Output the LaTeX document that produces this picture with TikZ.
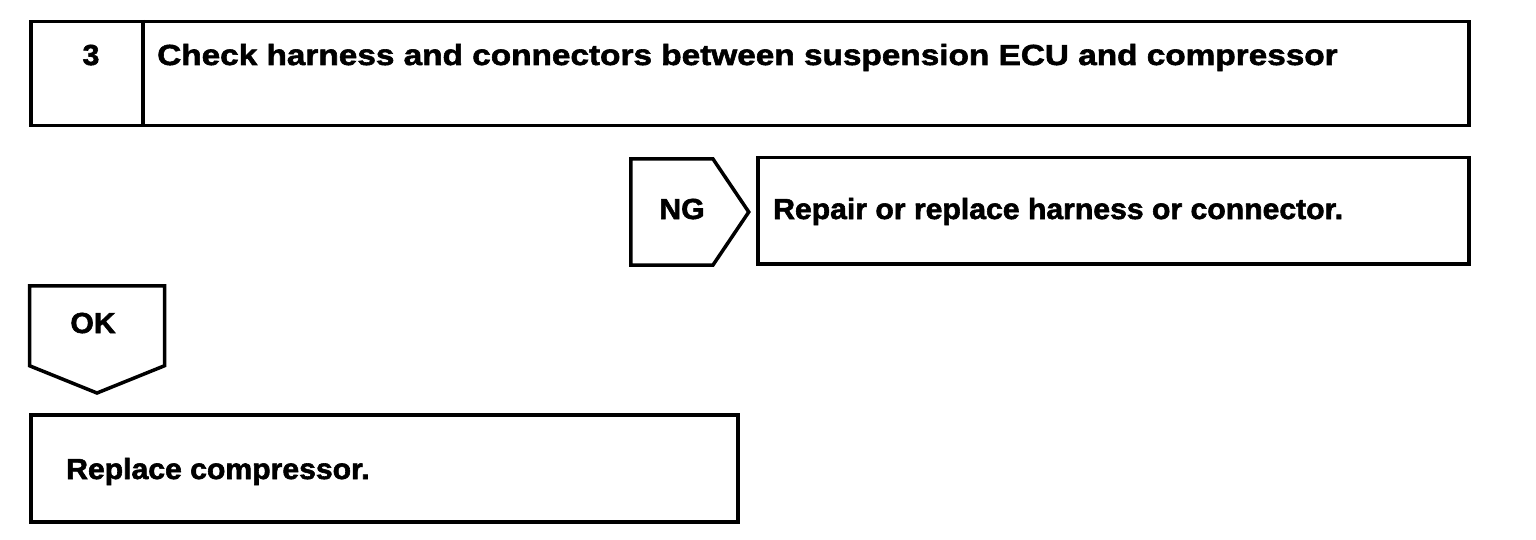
\documentclass[tikz,border=0pt]{standalone}
\usepackage{fontspec}
\setmainfont{Liberation Sans}[FakeStretch=1.04,FakeBold=2]
\newfontfamily\titlefont{Liberation Sans}[FakeStretch=1.15,FakeBold=2]
\usetikzlibrary{positioning,shapes.symbols}

\tikzset{
  stepbox/.style={draw, line width=3.5pt, rectangle, inner sep=0pt},
  tagbox/.style={draw, line width=3.5pt, shape=signal, inner sep=0pt},
  boxtext/.style={font=\fontsize{29}{33}\selectfont\bfseries, inner sep=0pt},
  titletext/.style={font=\titlefont\fontsize{29}{33}\selectfont\bfseries, inner sep=0pt},
}

\begin{document}
\begin{tikzpicture}[x=1pt,y=-1pt]
    \useasboundingbox (0,0) rectangle (1536,540);
    % step 3
    \node[stepbox, minimum width=1438pt, minimum height=104pt, anchor=north west] (check) at (29,20) {};
    \draw[line width=3.5pt] ([xshift=114pt]check.north west) -- ([xshift=114pt]check.south west);
    \node[boxtext, anchor=base] (num) at (91,65) {3};
    \node[titletext, anchor=base west] (checktext) at (157,65) {Check harness and connectors between suspension ECU and compressor};
    % NG branch
    \node[tagbox, signal to=east, signal pointer angle=112, minimum width=118pt, minimum height=106pt, anchor=west] (ng) at (629,212) {};
    \node[boxtext, anchor=base] (ngtext) at (682,219) {NG};
    \node[stepbox, minimum width=711pt, minimum height=106pt, anchor=north west] (repair) at (756,156) {};
    \node[boxtext, anchor=base west] (repairtext) at (773,219) {Repair or replace harness or connector.};
    % OK branch
    \node[tagbox, signal to=south, signal pointer angle=136, minimum width=135pt, minimum height=80pt, anchor=north] (ok) at (97,284) {};
    \node[boxtext, anchor=base] (oktext) at (93,333) {OK};
    \node[stepbox, minimum width=707pt, minimum height=107pt, anchor=north west] (replace) at (29,413) {};
    \node[boxtext, anchor=base west] (replacetext) at (66,479) {Replace compressor.};
\end{tikzpicture}
\end{document}
